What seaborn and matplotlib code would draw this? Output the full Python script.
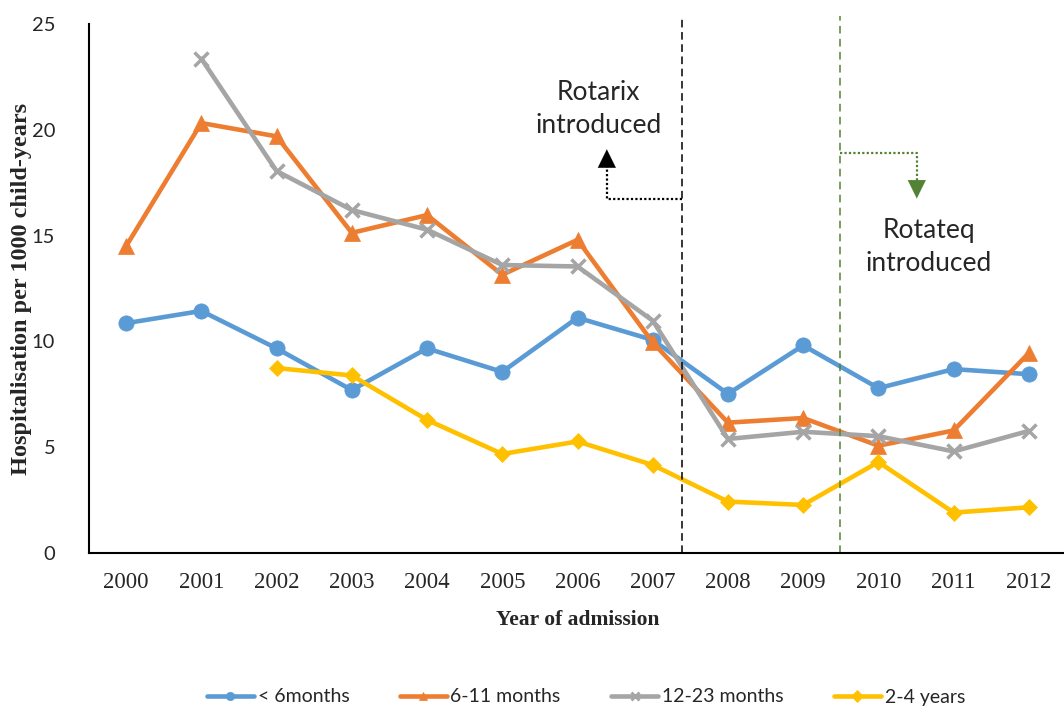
import numpy as np
import pandas as pd
import matplotlib
matplotlib.use("Agg")
import matplotlib.pyplot as plt
import seaborn as sns

years = [2000, 2001, 2002, 2003, 2004, 2005, 2006, 2007, 2008, 2009, 2010, 2011, 2012]
under_6m = [10.86, 11.44, 9.67, 7.70, 9.67, 8.56, 11.12, 10.07, 7.52, 9.81, 7.79, 8.69, 8.45]
m6_11 = [14.50, 20.32, 19.69, 15.13, 15.97, 13.15, 14.80, 9.95, 6.16, 6.38, 5.07, 5.79, 9.45]
m12_23 = [np.nan, 23.36, 18.05, 16.21, 15.28, 13.61, 13.54, 10.98, 5.39, 5.73, 5.52, 4.80, 5.77]
y2_4 = [np.nan, np.nan, 8.74, 8.39, 6.29, 4.68, 5.27, 4.16, 2.43, 2.27, 4.30, 1.91, 2.16]

series_names = ["< 6months", "6-11 months", "12-23 months", "2-4 years"]
series_values = [under_6m, m6_11, m12_23, y2_4]
colors = ["#5B9BD5", "#ED7D31", "#A5A5A5", "#FFC000"]
markers = ["o", "^", "x", "D"]
msizes = [11, 11, 10, 8]

rotarix_x = 2007.39
rotateq_x = 2009.49

sns.set_theme(style="white")
plt.rcParams['font.family'] = ['Lato', 'DejaVu Sans']

fig = plt.figure(figsize=(10.64, 7.13), dpi=100)
ax = fig.add_axes([88.5 / 1064, 1 - 553 / 713, 978 / 1064, (553 - 24) / 713])

for name, vals, c, m, ms in zip(series_names, series_values, colors, markers, msizes):
    df = pd.DataFrame({"year": years, "value": vals}).dropna()
    sns.lineplot(data=df, x="year", y="value", ax=ax, color=c, linewidth=3.3,
                 marker=m, markersize=ms, markeredgecolor=c,
                 markeredgewidth=2.5 if m == "x" else 0.5, label=name, legend=False)

ax.set_xlim(1999.5, 2012.5)
ax.set_ylim(0, 25)
ax.set_xticks(years)
ax.set_xticklabels([str(y) for y in years], fontfamily="Liberation Serif", fontsize=16.5)
ax.set_yticks([0, 5, 10, 15, 20, 25])
ax.set_yticklabels(["0", "5", "10", "15", "20", "25"], fontsize=14.5)
ax.tick_params(axis="both", length=0)
ax.tick_params(axis="x", pad=14)
ax.tick_params(axis="y", pad=24)
for s in ["top", "right"]:
    ax.spines[s].set_visible(False)
for s in ["left", "bottom"]:
    ax.spines[s].set_color("black")
    ax.spines[s].set_linewidth(1.5)

ax.set_xlabel("Year of admission", fontfamily="Liberation Serif", fontweight="bold", fontsize=15.5, labelpad=12)
ax.set_ylabel("Hospitalisation per 1000 child-years", fontfamily="Liberation Serif", fontweight="bold",
              fontsize=17.5, labelpad=0)

# vaccine introduction lines
ax.plot([rotarix_x, rotarix_x], [0, 25.3], color="black", linestyle=(0, (5, 3)), linewidth=1.1, clip_on=False)
ax.plot([rotateq_x, rotateq_x], [0, 25.4], color="#548235", linestyle=(0, (5, 3.5)), linewidth=1.1, clip_on=False)

# Rotarix arrow
rx_left = 2006.39
ax.plot([rotarix_x, rx_left, rx_left], [16.73, 16.73, 18.3], color="black", linestyle=(0, (1, 1)), linewidth=1.6)
ax.annotate("", xy=(rx_left, 19.08), xytext=(rx_left, 18.2),
            arrowprops=dict(arrowstyle="-|>,head_length=0.55,head_width=0.27", color="black", lw=0.1,
                            mutation_scale=24, shrinkA=0, shrinkB=0))
ax.text(2006.28, 20.96, "Rotarix\nintroduced", ha="center", va="center", fontsize=19, linespacing=1.4)

# Rotateq arrow
rq_right = 2010.51
ax.plot([rotateq_x, rq_right, rq_right], [18.9, 18.9, 17.6], color="#548235", linestyle=(0, (1, 1)), linewidth=1.6)
ax.annotate("", xy=(rq_right, 16.75), xytext=(rq_right, 17.6),
            arrowprops=dict(arrowstyle="-|>,head_length=0.55,head_width=0.27", color="#548235", lw=0.1,
                            mutation_scale=24, shrinkA=0, shrinkB=0))
ax.text(2010.67, 14.44, "Rotateq\nintroduced", ha="center", va="center", fontsize=19, linespacing=1.4)

handles = [plt.Line2D([], [], color=c, linewidth=3.3, marker=m, markersize=6,
                      markeredgewidth=2 if m == "x" else 0.5, markeredgecolor=c)
           for c, m in zip(colors, markers)]
fig.legend(handles, series_names, loc="center", bbox_to_anchor=(586 / 1064, 1 - 697 / 713), ncol=4,
           frameon=False, fontsize=14, handlelength=2.4, columnspacing=2.6, handletextpad=0.2)

fig.savefig("out.png", dpi=100)
